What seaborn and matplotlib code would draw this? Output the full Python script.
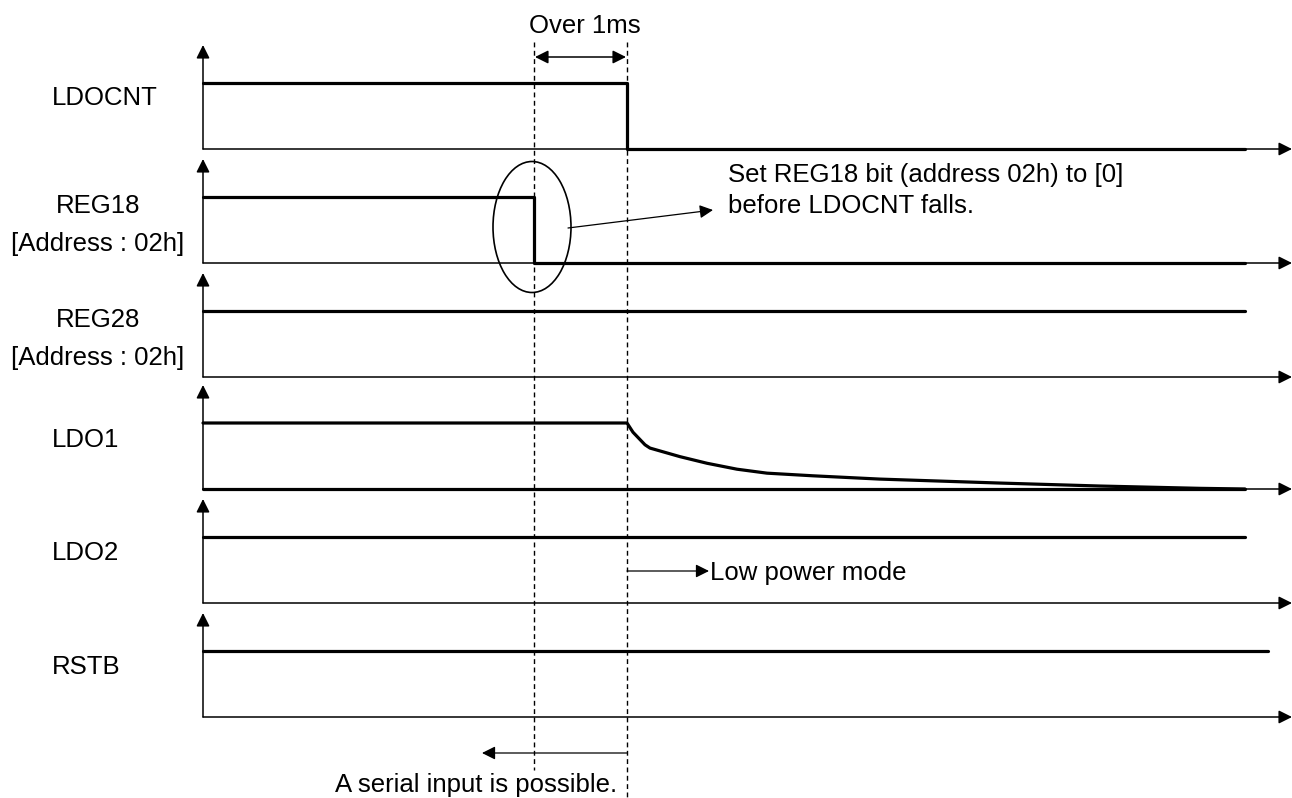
import numpy as np
import pandas as pd
import matplotlib.pyplot as plt
import seaborn as sns
from matplotlib.patches import Ellipse

# signal names and row baselines (pixel-like units, y grows downwards)
signals = ['LDOCNT', 'REG18', 'REG28', 'LDO1', 'LDO2', 'RSTB']
sub_labels = ['', '[Address : 02h]', '[Address : 02h]', '', '', '']
baselines = [149, 263, 377, 489, 603, 717]
high = 66  # height of a high level above the baseline

# waveforms: (time, level) with level 1 = high, 0 = low
t_ldocnt = [203, 627, 627, 1245]
v_ldocnt = [1, 1, 0, 0]
t_reg18 = [203, 534, 534, 1245]
v_reg18 = [1, 1, 0, 0]
t_reg28 = [203, 1245]
v_reg28 = [1, 1]
t_ldo1 = [203, 621, 627, 633, 645, 650, 680, 707, 737, 767, 813, 880,
          1000, 1100, 1200, 1245]
v_ldo1 = [1, 1, 1, 0.86, 0.67, 0.62, 0.49, 0.39, 0.30, 0.24, 0.20, 0.15,
          0.09, 0.045, 0.01, 0.0]
t_ldo2 = [203, 1245]
v_ldo2 = [1, 1]
t_rstb = [203, 1268]
v_rstb = [1, 1]

waves = [(t_ldocnt, v_ldocnt), (t_reg18, v_reg18), (t_reg28, v_reg28),
         (t_ldo1, v_ldo1), (t_ldo2, v_ldo2), (t_rstb, v_rstb)]

t_reg18_fall = 534
t_ldocnt_fall = 627

sns.set_style('white')
plt.rcParams['font.family'] = ['Liberation Sans', 'DejaVu Sans']
plt.rcParams['text.color'] = 'black'

fig = plt.figure(figsize=(12.92, 7.98), dpi=100)
ax = fig.add_axes([0, 0, 1, 1])
ax.set_xlim(0, 1292)
ax.set_ylim(798, 0)
ax.axis('off')

fs = 18.5
arrow = dict(arrowstyle='-|>', color='black', lw=1.1, mutation_scale=20,
             shrinkA=0, shrinkB=0)

# name label baselines relative to the row baseline
name_off = [-44, -50, -50, -42, -43, -43]
for name, sub, base, off, (t, v) in zip(signals, sub_labels, baselines,
                                        name_off, waves):
    # axes of each row
    ax.annotate('', xy=(203, base - 104), xytext=(203, base), arrowprops=arrow)
    ax.annotate('', xy=(1292, base), xytext=(203, base), arrowprops=arrow)
    df = pd.DataFrame({'t': t, 'y': [base - high * lv for lv in v]})
    sns.lineplot(data=df, x='t', y='y', sort=False, estimator=None,
                 color='black', lw=2.3, ax=ax)
    if sub:
        ax.text(98, base + off, name, ha='center', va='baseline', fontsize=fs)
        ax.text(98, base - 12, sub, ha='center', va='baseline', fontsize=fs)
    else:
        ax.text(52, base + off, name, ha='left', va='baseline', fontsize=fs)

# LDO1 baseline is drawn thick
ax.plot([203, 1245], [489, 489], color='black', lw=2.3)

# dashed timing markers
ax.plot([t_reg18_fall] * 2, [42, 770], color='black', lw=1, ls=(0, (3.5, 2.5)))
ax.plot([t_ldocnt_fall] * 2, [42, 798], color='black', lw=1, ls=(0, (3.5, 2.5)))

# Over 1ms
ax.text(585, 33, 'Over 1ms', ha='center', va='baseline', fontsize=fs)
ax.annotate('', xy=(535, 57), xytext=(626, 57),
            arrowprops=dict(arrow, arrowstyle='<|-|>'))

# ellipse and note
ax.add_patch(Ellipse((532, 227), 78, 131, fill=False, ec='black', lw=1.2))
ax.annotate('', xy=(713, 210), xytext=(568, 228),
            arrowprops=dict(arrow, lw=0.9))
ax.text(728, 182, 'Set REG18 bit (address 02h) to [0]', ha='left',
        va='baseline', fontsize=fs)
ax.text(728, 213, 'before LDOCNT falls.', ha='left', va='baseline', fontsize=fs)

# low power mode
ax.annotate('', xy=(709, 571), xytext=(627, 571),
            arrowprops=dict(arrow, lw=0.9))
ax.text(710, 580, 'Low power mode', ha='left', va='baseline', fontsize=fs)

# serial input
ax.annotate('', xy=(482, 753), xytext=(627, 753),
            arrowprops=dict(arrow, lw=0.9))
ax.text(617, 792, 'A serial input is possible.', ha='right', va='baseline',
        fontsize=fs)

fig.savefig('out.png', dpi=100)
